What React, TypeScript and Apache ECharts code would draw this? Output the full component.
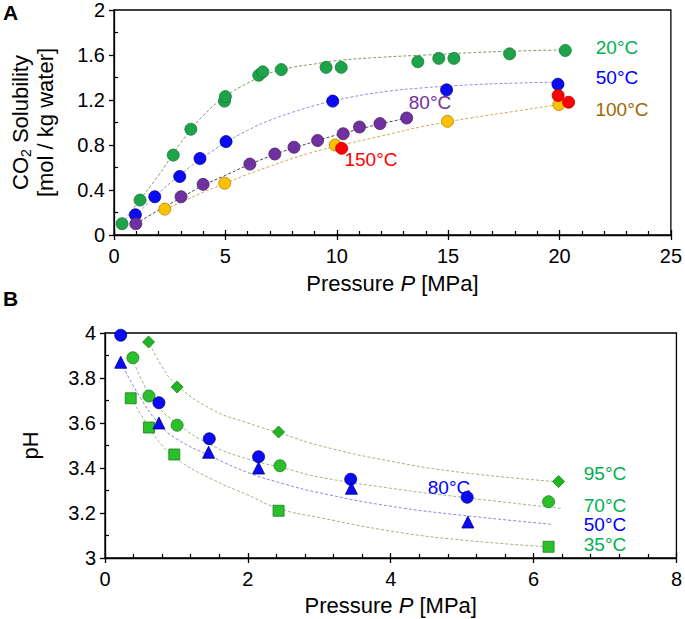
import React, { useEffect, useRef } from "react";
import * as echarts from "echarts";

// ---------- Panel A: CO2 solubility vs pressure ----------
const sol20C: [number, number][] = [
  [0.36, 0.1], [1.17, 0.31], [2.66, 0.71], [3.45, 0.94], [4.96, 1.19], [5.0, 1.23],
  [6.5, 1.42], [6.68, 1.45], [7.51, 1.47], [9.52, 1.49], [10.2, 1.49], [13.64, 1.54],
  [14.58, 1.57], [15.26, 1.57], [17.76, 1.61], [20.26, 1.64],
];
const sol50C: [number, number][] = [
  [0.96, 0.18], [1.83, 0.34], [2.95, 0.52], [3.86, 0.68], [5.03, 0.83], [9.82, 1.19],
  [14.93, 1.29], [19.93, 1.34],
];
const sol80C: [number, number][] = [
  [0.98, 0.1], [3.01, 0.34], [4.0, 0.45], [6.1, 0.63], [7.22, 0.72], [8.08, 0.78],
  [9.14, 0.84], [10.29, 0.9], [11.02, 0.96], [11.94, 0.99], [13.14, 1.04],
];
const sol100C: [number, number][] = [
  [2.28, 0.23], [4.97, 0.46], [9.93, 0.8], [14.97, 1.01], [19.97, 1.16],
];
const sol150C: [number, number][] = [
  [10.22, 0.77], [19.94, 1.24], [20.41, 1.18],
];
const fit20C: [number, number][] = [
  [0.36, 0.1], [1, 0.27], [2, 0.53], [3, 0.82], [4, 1.06], [5, 1.23], [6, 1.35],
  [7, 1.44], [8, 1.49], [9, 1.52], [10, 1.55], [12, 1.58], [14, 1.6], [16, 1.62],
  [18, 1.635], [20.3, 1.645],
];
const fit50C: [number, number][] = [
  [0.96, 0.17], [2, 0.37], [3, 0.54], [4, 0.69], [5, 0.82], [6, 0.93], [7, 1.02],
  [8, 1.09], [9, 1.15], [10, 1.2], [12, 1.27], [14, 1.31], [16, 1.335], [18, 1.35],
  [20, 1.36],
];
const fit80C: [number, number][] = [
  [0.98, 0.1], [2, 0.22], [3, 0.33], [4, 0.44], [5, 0.53], [6, 0.62], [7, 0.7],
  [8, 0.77], [9, 0.83], [10, 0.89], [11, 0.94], [12, 0.99], [13.2, 1.04],
];
const fit100C: [number, number][] = [
  [2.28, 0.23], [3, 0.29], [4, 0.38], [5, 0.46], [6, 0.54], [7, 0.61], [8, 0.68],
  [9, 0.74], [10, 0.79], [12, 0.88], [14, 0.97], [16, 1.04], [18, 1.1], [20, 1.16],
];

// ---------- Panel B: pH vs pressure ----------
const ph80C: [number, number][] = [
  [0.22, 3.99], [0.755, 3.69], [1.46, 3.53], [2.15, 3.45], [3.44, 3.35], [5.07, 3.27],
];
const ph50C: [number, number][] = [
  [0.22, 3.87], [0.755, 3.6], [1.45, 3.47], [2.15, 3.4], [3.45, 3.31], [5.08, 3.16],
];
const ph70C: [number, number][] = [
  [0.39, 3.89], [0.615, 3.72], [1.01, 3.59], [2.45, 3.41], [6.21, 3.25],
];
const ph95C: [number, number][] = [
  [0.61, 3.96], [1.01, 3.76], [2.43, 3.56], [6.35, 3.34],
];
const ph35C: [number, number][] = [
  [0.36, 3.71], [0.615, 3.58], [0.97, 3.46], [2.43, 3.21], [6.21, 3.05],
];
const phFit95C: [number, number][] = [
  [0.6, 3.97], [0.8, 3.85], [1, 3.77], [1.5, 3.66], [2, 3.6], [2.5, 3.55], [3, 3.5],
  [4, 3.43], [5, 3.38], [6.3, 3.34],
];
const phFit70C: [number, number][] = [
  [0.38, 3.89], [0.5, 3.8], [0.7, 3.69], [1, 3.6], [1.5, 3.5], [2, 3.44], [2.5, 3.4],
  [3, 3.36], [4, 3.31], [5, 3.27], [6.4, 3.22],
];
const phFit50C: [number, number][] = [
  [0.22, 3.87], [0.5, 3.71], [0.75, 3.6], [1, 3.53], [1.5, 3.45], [2, 3.38], [2.5, 3.33],
  [3, 3.29], [4, 3.23], [5, 3.19], [6.25, 3.15],
];
const phFit35C: [number, number][] = [
  [0.36, 3.71], [0.5, 3.64], [0.615, 3.58], [0.8, 3.5], [1, 3.44], [1.5, 3.35],
  [2, 3.28], [2.43, 3.22], [3, 3.18], [4, 3.12], [5, 3.08], [6.2, 3.05],
];

const FONT = "'Liberation Sans', Arial, sans-serif";

function axisPair(dim: "x" | "y", grid: number, min: number, max: number, interval: number, minorSplit: number, name: string, nameGap: number, nameRich?: any) {
  const pos = dim === "x" ? "bottom" : "left";
  const primary: any = {
    type: "value", gridIndex: grid, position: pos, min, max, interval,
    axisLine: { show: true, onZero: false, lineStyle: { color: "#000", width: 1.3 } },
    axisTick: { show: true, inside: false, length: 5, lineStyle: { color: "#000", width: 1.3 } },
    axisLabel: { show: true, color: "#000", fontSize: 20, fontFamily: FONT, margin: dim === "x" ? 11 : 9 },
    splitLine: { show: false },
    name, nameLocation: "middle", nameGap,
    nameTextStyle: { color: "#000", fontSize: 22, fontFamily: FONT, rich: nameRich, lineHeight: 25 },
  };
  if (dim === "y") primary.nameRotate = 90;
  const secondary: any = {
    type: "value", gridIndex: grid, position: pos, min, max, interval,
    axisLine: { show: false, onZero: false },
    axisTick: { show: dim === "x", inside: true, length: 5, lineStyle: { color: "#000", width: 1.3 } },
    minorTick: { show: true, splitNumber: minorSplit, length: 4, lineStyle: { color: "#000", width: 1.2 } },
    axisLabel: { show: false },
    splitLine: { show: false },
  };
  return [primary, secondary];
}

function pts(data: [number, number][], color: string, border: string, symbol: string, size: number, xi: number, yi: number) {
  return {
    type: "scatter", data, xAxisIndex: xi, yAxisIndex: yi, symbol, symbolSize: size, z: 5,
    itemStyle: { color, borderColor: border, borderWidth: 0.8, opacity: 1 },
  };
}
function fit(data: [number, number][], color: string, xi: number, yi: number) {
  return {
    type: "line", data, xAxisIndex: xi, yAxisIndex: yi, smooth: true, showSymbol: false,
    symbol: "none", z: 2, lineStyle: { color, width: 1, type: [3, 2] },
  };
}

function label(text: string, x: number, y: number, color: string) {
  return {
    type: "text", x, y,
    style: { text, fill: color, fontSize: 19, fontFamily: FONT, align: "center", verticalAlign: "middle" },
  };
}

export default function App() {
  const ref = useRef<HTMLDivElement>(null);
  useEffect(() => {
    document.body.style.margin = "0";
    const chart = echarts.init(ref.current!, null, { renderer: "svg" });
    const italic = { i: { fontStyle: "italic", fontSize: 22, fontFamily: FONT, color: "#000", lineHeight: 25 } };
    const [xA, xA2] = axisPair("x", 0, 0, 25, 5, 5, "Pressure {i|P} [MPa]", 36, italic);
    const [yA, yA2] = axisPair("y", 0, 0, 2, 0.4, 2, "CO{sub|2} Solubility\n[mol / kg water]", 56,
      { sub: { fontSize: 14, fontFamily: FONT, color: "#000", verticalAlign: "bottom", lineHeight: 25 } });
    const [xB, xB2] = axisPair("x", 1, 0, 8, 2, 5, "Pressure {i|P} [MPa]", 35, italic);
    const [yB, yB2] = axisPair("y", 1, 3, 4, 0.2, 2, "pH", 62);

    chart.setOption({
      animation: false,
      backgroundColor: "#fff",
      grid: [
        { left: 105, top: 8, width: 570, height: 227, show: true, borderColor: "#000", borderWidth: 1.3, backgroundColor: "transparent" },
        { left: 105, top: 333, width: 572, height: 226, show: true, borderColor: "#000", borderWidth: 1.3, backgroundColor: "transparent" },
      ],
      xAxis: [xA, xA2, xB, xB2],
      yAxis: [yA, yA2, yB, yB2],
      series: [
        fit(fit20C, "#7f9a6a", 0, 0),
        fit(fit50C, "#8f8ee0", 0, 0),
        fit(fit80C, "#4a4a4a", 0, 0),
        fit(fit100C, "#d2a860", 0, 0),
        pts(sol20C, "#1fa34a", "#137a33", "circle", 12, 0, 0),
        pts(sol50C, "#0a0af5", "#00008a", "circle", 12, 0, 0),
        pts(sol80C, "#7030a0", "#4a1d6c", "circle", 12, 0, 0),
        pts(sol100C, "#ffc000", "#b08000", "circle", 12, 0, 0),
        pts(sol150C, "#ff0000", "#b00000", "circle", 12, 0, 0),

        fit(phFit95C, "#9ab880", 2, 2),
        fit(phFit70C, "#9ab880", 2, 2),
        fit(phFit50C, "#8f88d8", 2, 2),
        fit(phFit35C, "#9ab880", 2, 2),
        pts(ph95C, "#22b522", "#178017", "diamond", 12, 2, 2),
        pts(ph70C, "#2cbf2c", "#178017", "circle", 12, 2, 2),
        pts(ph35C, "#2cbf2c", "#178017", "rect", 11, 2, 2),
        pts(ph80C, "#0a0af5", "#00008a", "circle", 12, 2, 2),
        pts(ph50C, "#0a0af5", "#00008a", "triangle", 12, 2, 2),
      ],
      graphic: [
        { type: "text", x: 3, y: 2, style: { text: "A", fill: "#000", fontSize: 21, fontWeight: "bold", fontFamily: FONT } },
        { type: "text", x: 3, y: 288, style: { text: "B", fill: "#000", fontSize: 21, fontWeight: "bold", fontFamily: FONT } },
        label("20°C", 617, 47, "#00b050"),
        label("50°C", 617, 77, "#0000ff"),
        label("100°C", 622, 109, "#9c6a00"),
        label("80°C", 430, 102, "#7030a0"),
        label("150°C", 371, 159, "#ff0000"),
        label("95°C", 605, 473, "#00b050"),
        label("70°C", 605, 505, "#00b050"),
        label("50°C", 605, 524, "#0000ff"),
        label("35°C", 605, 544, "#00b050"),
        label("80°C", 449, 487, "#0000ff"),
      ],
    });
    return () => chart.dispose();
  }, []);
  return <div ref={ref} style={{ position: "fixed", left: 0, top: 0, width: 685, height: 619 }} />;
}
